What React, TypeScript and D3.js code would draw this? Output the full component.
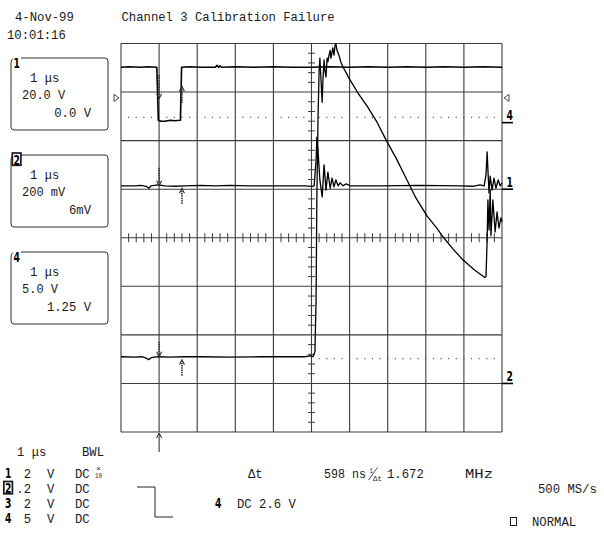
import React from 'react';
import * as d3 from 'd3';

// ---- data (time in µs, 1 µs/div; level in screen divisions) ----
const timeDomain: [number, number] = [-5, 5];
const levelDomain: [number, number] = [-4, 4];

const headerDate = '4-Nov-99';
const headerTime = '10:01:16';
const headerTitle = 'Channel 3 Calibration Failure';

const ch4Trace: [number, number][] = [
  [-5.0, 3.51], [-4.8, 3.52], [-4.5, 3.51], [-4.3, 3.52], [-4.06, 3.51], [-4.02, 2.42], [-3.95, 2.4],
  [-3.85, 2.4], [-3.7, 2.42], [-3.6, 2.41], [-3.44, 2.42], [-3.41, 3.51], [-3.2, 3.52], [-2.9, 3.51],
  [-2.52, 3.51], [-2.48, 3.55], [-2.44, 3.51], [-2.4, 3.54], [-2.36, 3.51], [-2.0, 3.52], [-1.5, 3.51],
  [-1.0, 3.52], [-0.5, 3.51], [0.0, 3.51], [0.5, 3.52], [1.0, 3.51], [1.5, 3.52], [2.0, 3.51],
  [2.5, 3.52], [3.0, 3.51], [3.5, 3.52], [4.0, 3.51], [4.5, 3.52], [5.0, 3.51],
];

const ch1Trace: [number, number][] = [
  [-5.0, 1.07], [-4.63, 1.07], [-4.48, 1.08], [-4.34, 1.06], [-4.27, 1.02], [-4.21, 1.07], [-4.03, 1.09],
  [-3.85, 1.07], [-3.58, 1.06], [-3.32, 1.07], [-2.93, 1.08], [-2.53, 1.07], [-2.14, 1.08], [-1.61, 1.07],
  [-1.09, 1.07], [-0.56, 1.07], [-0.17, 1.07], [0.01, 1.06], [0.07, 1.07], [0.12, 1.6], [0.14, 2.07],
  [0.17, 1.81], [0.22, 1.19], [0.28, 0.84], [0.33, 1.5], [0.38, 0.98], [0.43, 1.35], [0.49, 1.02],
  [0.54, 1.23], [0.59, 1.05], [0.64, 1.19], [0.7, 1.07], [0.75, 1.13], [0.83, 1.07], [0.91, 1.11],
  [1.01, 1.07], [1.8, 1.07], [2.85, 1.08], [3.9, 1.07], [4.24, 1.06], [4.42, 1.09], [4.53, 1.07],
  [4.58, 1.29], [4.61, 1.77], [4.63, 1.4], [4.66, 0.92], [4.69, 1.27], [4.74, 0.98], [4.79, 1.23],
  [4.84, 1.02], [4.9, 1.19], [4.95, 1.07], [5.0, 1.13],
];

const ch2Trace: [number, number][] = [
  [-5.0, -2.45], [-4.63, -2.46], [-4.45, -2.45], [-4.34, -2.48], [-4.27, -2.51], [-4.21, -2.47],
  [-4.03, -2.45], [-3.71, -2.46], [-3.32, -2.45], [-2.93, -2.45], [-2.14, -2.46], [-1.35, -2.45],
  [-0.56, -2.45], [-0.17, -2.45], [-0.01, -2.43], [0.04, -2.45], [0.09, -2.35], [0.12, -1.28],
  [0.14, 0.78], [0.17, 2.42], [0.2, 3.45], [0.22, 3.7], [0.25, 3.25], [0.28, 2.79], [0.3, 3.25],
  [0.33, 3.66], [0.35, 3.45], [0.38, 3.31], [0.41, 3.7], [0.43, 3.62], [0.46, 3.76], [0.49, 3.86],
  [0.51, 3.7], [0.54, 3.82], [0.56, 3.91], [0.59, 3.76], [0.62, 3.97], [0.64, 3.99], [0.67, 3.86],
  [0.72, 3.76], [0.77, 3.62], [0.83, 3.51], [1.01, 3.25], [1.22, 2.98], [1.46, 2.71], [1.72, 2.38],
  [1.96, 2.01], [2.22, 1.64], [2.48, 1.23], [2.74, 0.82], [3.03, 0.45], [3.29, 0.2], [3.45, 0.02],
  [3.71, -0.23], [3.98, -0.46], [4.27, -0.66], [4.55, -0.82], [4.58, -0.8], [4.61, -0.05], [4.63, 0.78],
  [4.66, 0.16], [4.69, 0.98], [4.71, 0.04], [4.76, 0.78], [4.82, 0.12], [4.87, 0.53], [4.92, 0.2],
  [4.97, 0.41], [5.0, 0.33],
];

const ch4RefLevel = 2.48;
const ch2RefLevel = -2.49;
const cursorTimes = [-4.0, -3.4];
// arrows at the two cursors: [from, to] levels for down arrow (cursor 1) and up arrow (cursor 2)
const cursorArrows = [
  { down: [3.35, 2.86], up: [2.78, 3.12] },
  { down: [1.44, 1.07], up: [0.7, 1.02] },
  { down: [-2.14, -2.45], up: [-2.84, -2.51] },
];
const channelMarkers = [
  { label: '4', level: 2.37 },
  { label: '1', level: 1.0 },
  { label: '2', level: -3.0 },
];
const triggerLevel = 2.88;

const channelBoxes = [
  { ch: '1', boxed: false, timebase: '1 μs', scale: '20.0 V', offset: '0.0 V' },
  { ch: '2', boxed: true, timebase: '1 μs', scale: '200 mV', offset: '6mV' },
  { ch: '4', boxed: false, timebase: '1 μs', scale: '5.0 V', offset: '1.25 V' },
];

const channelSettings = [
  { ch: '1', boxed: false, volts: '2', unit: 'V', coupling: 'DC', probe: true },
  { ch: '2', boxed: true, volts: '.2', unit: 'V', coupling: 'DC', probe: false },
  { ch: '3', boxed: false, volts: '2', unit: 'V', coupling: 'DC', probe: false },
  { ch: '4', boxed: false, volts: '5', unit: 'V', coupling: 'DC', probe: false },
];

const timebaseLabel = '1 μs';
const bwlLabel = 'BWL';
const deltaT = '598 ns';
const freq = '1.672';
const freqUnit = 'MHz';
const sampleRate = '500 MS/s';
const triggerInfo = { ch: '4', text: 'DC 2.6 V' };
const modeLabel = 'NORMAL';

// ---- drawing ----
const FONT = "'Liberation Mono', 'DejaVu Sans Mono', monospace";
const BOLD_FONT = "'DejaVu Sans', 'Liberation Sans', sans-serif";
const CW = 7.35;
const INK = '#1a1a1a';

function T({ x, y, s, anchor = 'start', size = 13, bold = false, w, fill = INK, family = FONT }: any) {
  return (
    <text
      x={x}
      y={y}
      textAnchor={anchor}
      fontSize={size}
      fontWeight={bold ? 'bold' : 'normal'}
      fontFamily={family}
      fill={fill}
      textLength={w ?? s.length * CW}
      lengthAdjust="spacingAndGlyphs"
      style={{ whiteSpace: 'pre' }}
    >
      {s}
    </text>
  );
}

function ChDigit({ x, y, s, boxed }: any) {
  return (
    <g>
      {boxed && <rect x={x - 1.2} y={y - 11.5} width={8.6} height={12.3} fill="#fff" stroke={INK} strokeWidth={1.7} />}
      <T x={x} y={y} s={s} bold size={14} w={6.4} family={BOLD_FONT} fill="#000" />
    </g>
  );
}

function Arrow({ x, y1, y2 }: { x: number; y1: number; y2: number }) {
  const dir = y2 > y1 ? 1 : -1;
  return (
    <g stroke="#333" fill="none">
      <line x1={x} y1={y1} x2={x} y2={y2} strokeWidth={1.6} strokeDasharray="1.5 0.8" />
      <polyline points={`${x - 2.5},${y2 - dir * 5} ${x},${y2} ${x + 2.5},${y2 - dir * 5}`} strokeWidth={1.1} />
    </g>
  );
}

export default function App() {
  const x = d3.scaleLinear().domain(timeDomain).range([121, 502]);
  const y = d3.scaleLinear().domain(levelDomain).range([432, 43.5]);
  const line = d3.line<[number, number]>().x((d) => x(d[0])).y((d) => y(d[1]));

  const majorT = d3.range(timeDomain[0], timeDomain[1] + 0.001, 1);
  const majorV = d3.range(levelDomain[0], levelDomain[1] + 0.001, 1);
  const isMinor = (v: number) => Math.abs(v - Math.round(v)) > 0.01;
  const minorT = d3.range(timeDomain[0], timeDomain[1] + 0.001, 0.2).filter(isMinor);
  const minorV = d3.range(levelDomain[0], levelDomain[1] + 0.001, 0.2).filter(isMinor);
  const dots4 = d3.range(-4.8, 4.9, 0.2);
  const dots2 = d3.range(0.2, 4.9, 0.2);

  const x0 = x(0);
  const y0 = y(0);
  const gridColor = '#3c3c3c';

  return (
    <svg width={604} height={540} style={{ position: 'absolute', left: 0, top: 0, background: '#fff' }}>
      <rect width={604} height={540} fill="#fff" />
      {/* header */}
      <T x={15} y={21} s={headerDate} />
      <T x={7} y={39} s={headerTime} />
      <T x={121.5} y={21} s={headerTitle} />

      {/* grid */}
      <g stroke={gridColor} strokeWidth={1.1}>
        {majorT.map((t) => (
          <line key={'vt' + t} x1={x(t)} x2={x(t)} y1={y(levelDomain[1])} y2={y(levelDomain[0])} />
        ))}
        {majorV.map((v) => (
          <line key={'hv' + v} x1={x(timeDomain[0])} x2={x(timeDomain[1])} y1={y(v)} y2={y(v)} />
        ))}
        {minorT.map((t) => (
          <line key={'mt' + t} x1={x(t)} x2={x(t)} y1={y0 - 4.5} y2={y0 + 4.5} strokeWidth={1} />
        ))}
        {minorV.map((v) => (
          <line key={'mv' + v} x1={x0 - 3.5} x2={x0 + 3.5} y1={y(v)} y2={y(v)} strokeWidth={1} />
        ))}
      </g>

      {/* reference dotted lines */}
      <g fill="#555">
        {dots4.map((t) => (
          <rect key={'d4' + t} x={x(t) - 0.6} y={y(ch4RefLevel) - 0.6} width={1.2} height={1.2} />
        ))}
        {dots2.map((t) => (
          <rect key={'d2' + t} x={x(t) - 0.6} y={y(ch2RefLevel) - 0.6} width={1.2} height={1.2} />
        ))}
      </g>

      {/* traces */}
      <g fill="none" stroke="#000" strokeLinejoin="round">
        <path d={line(ch4Trace) ?? ''} strokeWidth={1.6} />
        <path d={line(ch1Trace) ?? ''} strokeWidth={1.3} />
        <path d={line(ch2Trace) ?? ''} strokeWidth={1.3} />
      </g>

      {/* cursor arrows */}
      {cursorArrows.map((a, i) => (
        <g key={'ca' + i}>
          <Arrow x={x(cursorTimes[0])} y1={y(a.down[0])} y2={y(a.down[1])} />
          <Arrow x={x(cursorTimes[1])} y1={y(a.up[0])} y2={y(a.up[1])} />
        </g>
      ))}
      <g stroke="#222" fill="none" strokeWidth={1}>
        <line x1={x(cursorTimes[0])} x2={x(cursorTimes[0])} y1={y(levelDomain[0]) + 1} y2={y(levelDomain[0]) + 20} />
        <polyline
          points={`${x(cursorTimes[0]) - 2.5},${y(levelDomain[0]) + 6} ${x(cursorTimes[0])},${y(levelDomain[0]) + 1} ${x(cursorTimes[0]) + 2.5},${y(levelDomain[0]) + 6}`}
        />
      </g>

      {/* trigger level markers */}
      <g fill="none" stroke="#333" strokeWidth={0.9}>
        <polygon points={`${x(timeDomain[0]) - 7},${y(triggerLevel) - 3.5} ${x(timeDomain[0]) - 2},${y(triggerLevel)} ${x(timeDomain[0]) - 7},${y(triggerLevel) + 3.5}`} />
        <polygon points={`${x(timeDomain[1]) + 7},${y(triggerLevel) - 3.5} ${x(timeDomain[1]) + 2},${y(triggerLevel)} ${x(timeDomain[1]) + 7},${y(triggerLevel) + 3.5}`} />
      </g>

      {/* channel markers at right */}
      {channelMarkers.map((m) => (
        <g key={'cm' + m.label}>
          <line x1={x(timeDomain[1])} x2={x(timeDomain[1]) + 11} y1={y(m.level)} y2={y(m.level)} stroke="#000" strokeWidth={1.6} />
          <ChDigit x={x(timeDomain[1]) + 4.5} y={y(m.level) - 2.5} s={m.label} />
        </g>
      ))}

      {/* channel boxes */}
      {channelBoxes.map((b, i) => {
        const top = 58 + i * 97;
        const bot = top + 72;
        return (
          <g key={'box' + i}>
            <path
              d={`M21 ${top} H105 Q108 ${top} 108 ${top + 3} V${bot - 3} Q108 ${bot} 105 ${bot} H14 Q11 ${bot} 11 ${bot - 3} V${top + 5} Q11 ${top + 1.5} 13 ${top + 0.5}`}
              fill="none"
              stroke="#333"
              strokeWidth={1}
            />
            <ChDigit x={13.5} y={top + 9.5} s={b.ch} boxed={b.boxed} />
            <T x={30} y={top + 23.5} s={b.timebase} />
            <T x={22} y={top + 41} s={b.scale} w={b.scale.length * 7.2} />
            <T x={91} y={top + 59} s={b.offset} anchor="end" />
          </g>
        );
      })}

      {/* bottom panel */}
      <T x={17} y={456} s={timebaseLabel} />
      <T x={82} y={456} s={bwlLabel} />
      {channelSettings.map((c, i) => {
        const by = 478 + i * 15;
        return (
          <g key={'cs' + i}>
            <ChDigit x={5} y={by} s={c.ch} boxed={c.boxed} />
            <T x={31} y={by} s={c.volts} anchor="end" />
            <T x={47} y={by} s={c.unit} />
            <T x={75} y={by} s={c.coupling} />
            {c.probe && (
              <g>
                <T x={96} y={by - 7} s="×" size={8} w={5} />
                <T x={95} y={by} s="10" size={7} w={7} />
              </g>
            )}
          </g>
        );
      })}

      {/* trigger slope symbol */}
      <path d="M137 487 H155 V517 H173" fill="none" stroke="#222" strokeWidth={1} />
      <ChDigit x={215} y={508} s={triggerInfo.ch} />
      <T x={237} y={508} s={triggerInfo.text} />

      <T x={248} y={478} s="Δt" />
      <T x={324} y={478} s={deltaT} w={42} />
      <T x={369.5} y={473} s="1" size={7} w={3.5} />
      <line x1={368.5} y1={480} x2={377.5} y2={467.5} stroke="#222" strokeWidth={0.8} />
      <T x={373} y={480.5} s="Δt" size={7.5} w={9} />
      <T x={387} y={478} s={freq} />
      <T x={465} y={478} s={freqUnit} w={28} />

      <T x={538} y={493} s={sampleRate} />
      <rect x={510.5} y={517.5} width={6} height={8} fill="none" stroke="#222" strokeWidth={1} />
      <T x={532} y={526} s={modeLabel} />
    </svg>
  );
}
